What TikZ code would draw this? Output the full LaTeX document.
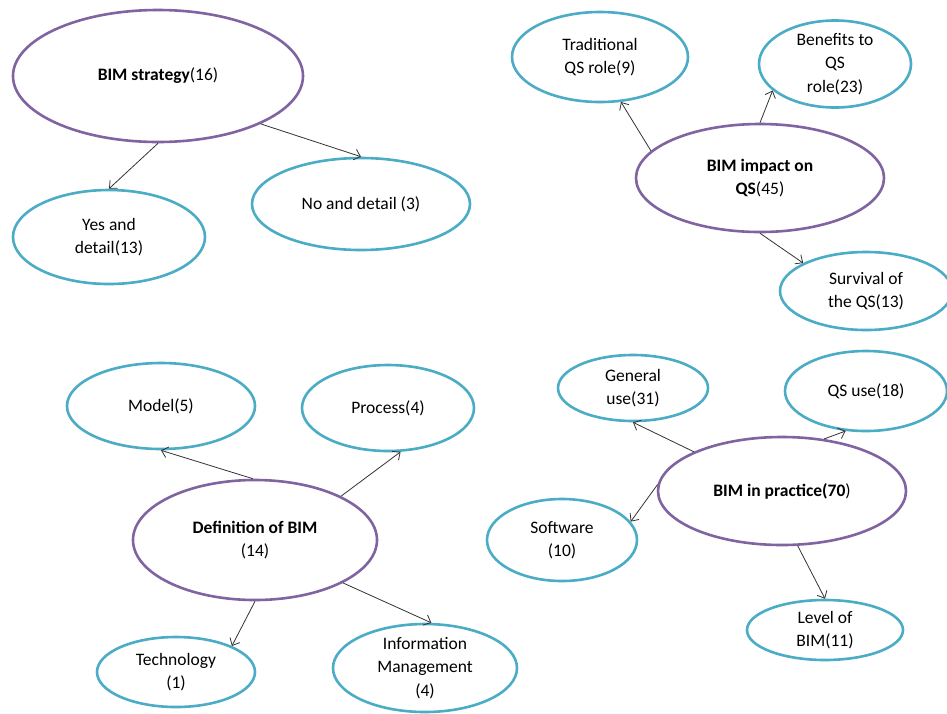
\documentclass[tikz,border=0pt]{standalone}
\usepackage{fontspec}
\setmainfont{Carlito}
\usetikzlibrary{shapes.geometric,arrows.meta}
\definecolor{bimpurple}{RGB}{128,100,162}
\definecolor{bimteal}{RGB}{75,172,198}
\tikzset{
  bubble/.style={ellipse, line width=2.6pt, inner sep=0pt, align=center,
    font=\fontsize{17.5}{23.5}\selectfont},
  mainnode/.style={bubble, draw=bimpurple},
  subnode/.style={bubble, draw=bimteal},
  link/.style={-{Straight Barb[length=6pt,width=11pt]}, line width=0.8pt, draw=black!80}
}
\begin{document}
\begin{tikzpicture}[x=1pt,y=-1pt]
	\useasboundingbox[fill=white] (0,0) rectangle (947,713);
	% BIM strategy
	\node[mainnode, minimum width=290pt, minimum height=132pt] (strat) at (158,76) {\textbf{BIM strategy}(16)};
	\node[subnode, minimum width=192pt, minimum height=94pt] (yes) at (109,237) {Yes and\\detail(13)};
	\node[subnode, minimum width=218pt, minimum height=92pt] (no) at (361,204) {No and detail (3)};
	\draw[link] (strat.-90) -- (yes.90);
	\draw[link] (strat.-25) -- (no.90);
	% BIM impact on QS
	\node[mainnode, minimum width=248pt, minimum height=108pt] (impact) at (760,178) {\textbf{BIM impact on}\\\textbf{QS}(45)};
	\node[subnode, minimum width=176pt, minimum height=90pt] (trad) at (600,57) {Traditional\\QS role(9)};
	\node[subnode, minimum width=152pt, minimum height=74pt] (benefit) at (835,64) {Benefits to\\QS\\role(23)};
	\node[subnode, minimum width=172pt, minimum height=78pt] (surv) at (866,291) {Survival of\\the QS(13)};
	\draw[link] (impact.166) -- (trad.-65);
	\draw[link] (impact.90) -- (benefit.203);
	\draw[link] (impact.-90) -- (surv.156);
	% Definition of BIM
	\node[mainnode, minimum width=244pt, minimum height=120pt] (defn) at (255,540) {\textbf{Definition of BIM}\\(14)};
	\node[subnode, minimum width=188pt, minimum height=86pt] (model) at (161,406) {Model(5)};
	\node[subnode, minimum width=172pt, minimum height=86pt] (process) at (388,408) {Process(4)};
	\node[subnode, minimum width=158pt, minimum height=70pt] (tech) at (176,672) {Technology\\(1)};
	\node[subnode, minimum width=184pt, minimum height=88pt] (info) at (425,668) {Information\\Management\\(4)};
	\draw[link] (defn.92) -- (model.-90);
	\draw[link] (defn.27) -- (process.-74);
	\draw[link] (defn.-90) -- (tech.25);
	\draw[link] (defn.-26) -- (info.82);
	% BIM in practice
	\node[mainnode, minimum width=248pt, minimum height=108pt] (practice) at (782,491) {\textbf{BIM in practice(70})};
	\node[subnode, minimum width=150pt, minimum height=66pt] (general) at (633,388) {General\\use(31)};
	\node[subnode, minimum width=162pt, minimum height=80pt] (qsuse) at (866,391) {QS use(18)};
	\node[subnode, minimum width=150pt, minimum height=82pt] (soft) at (562,540) {Software\\(10)};
	\node[subnode, minimum width=156pt, minimum height=60pt] (level) at (825,630) {Level of\\BIM(11)};
	\draw[link] (practice.156) -- (general.-90);
	\draw[link] (practice.51) -- (qsuse.-117);
	\draw[link] (practice.177) -- (soft.15);
	\draw[link] (practice.-74) -- (level.90);
\end{tikzpicture}
\end{document}
